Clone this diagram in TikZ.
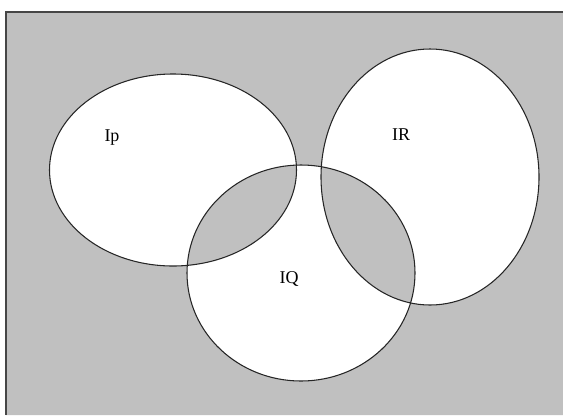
\documentclass[tikz,border=0pt]{standalone}
\usepackage{fontspec}
\setmainfont{Liberation Serif}
\definecolor{venngray}{RGB}{192,192,192}
\definecolor{framegray}{RGB}{70,70,70}
\tikzset{
  setline/.style={draw=black!85, line width=0.8pt},
  setlabel/.style={font=\fontsize{13.5}{15}\selectfont, inner sep=0pt}
}

\begin{document}
\begin{tikzpicture}[x=0.75pt,y=-0.75pt]
        \useasboundingbox (0,0) rectangle (563,415);

        % background with the pairwise overlaps
        \fill[venngray, even odd rule] (6,12) rectangle (563,415)
            (173,170) ellipse [x radius=123.5, y radius=96]
            (301,273) ellipse [x radius=114, y radius=108]
            (430,177) ellipse [x radius=109, y radius=128];
        \draw[framegray, line width=1.2pt] (6,415) -- (6,12) -- (563,12);

        \draw[setline] (173,170) ellipse [x radius=123.5, y radius=96];
        \draw[setline] (301,273) ellipse [x radius=114, y radius=108];
        \draw[setline] (430,177) ellipse [x radius=109, y radius=128];

        \node[setlabel] (Ip) at (112,138) {Ip};
        \node[setlabel] (IQ) at (289,279) {IQ};
        \node[setlabel] (IR) at (401,135) {IR};
\end{tikzpicture}
\end{document}
